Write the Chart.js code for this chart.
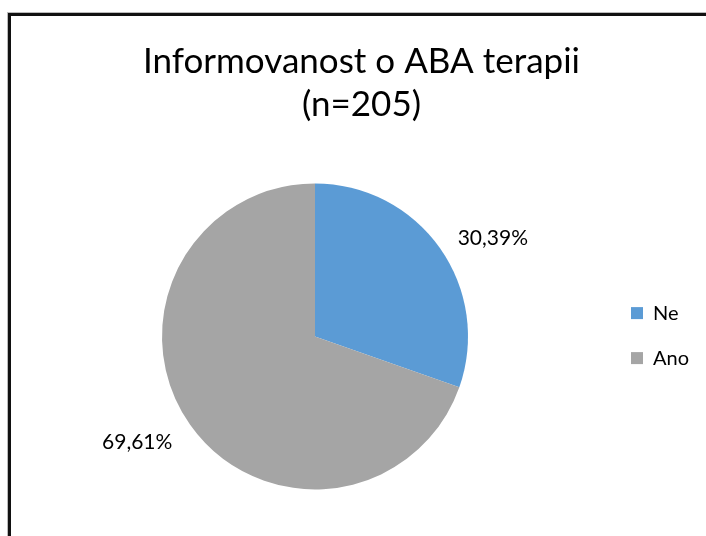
<!DOCTYPE html>
<html>
<head>
<meta charset="utf-8">
<script src="https://cdn.jsdelivr.net/npm/chart.js@4/dist/chart.umd.min.js"></script>
<style>
  body { margin: 0; background: #fff; width: 706px; height: 536px; overflow: hidden; position: relative; }
  #frame { position: absolute; left: 8px; top: 13px; width: 720px; height: 560px;
           border-left: 3px solid #111; border-top: 3px solid #111; box-shadow: -1px -1px 0 #bbb; }
  #wrap { position: absolute; left: 11px; top: 16px; width: 695px; height: 520px; }
</style>
</head>
<body>
<div id="frame"></div>
<div id="wrap"><canvas id="pieChart"></canvas></div>
<script>
// data
var categories = ['Ne', 'Ano'];
var values = [30.39, 69.61];
var colors = ['#5B9BD5', '#A5A5A5'];
var titleLines = ['Informovanost o ABA terapii', '(n=205)'];

var fontFamily = 'Lato, "Noto Sans", sans-serif';

// popisky hodnot mimo výseče
var valueLabels = {
  id: 'valueLabels',
  afterDatasetsDraw: function(chart) {
    var ctx = chart.ctx;
    var meta = chart.getDatasetMeta(0);
    ctx.save();
    ctx.font = '21px ' + fontFamily;
    ctx.fillStyle = '#000';
    ctx.textAlign = 'center';
    ctx.textBaseline = 'middle';
    meta.data.forEach(function(arc, i) {
      var p = arc.getProps(['x', 'y', 'startAngle', 'endAngle', 'outerRadius'], true);
      var mid = (p.startAngle + p.endAngle) / 2 + 0.095;
      var r = p.outerRadius * 1.34;
      var txt = values[i].toFixed(2).replace('.', ',') + '%';
      ctx.fillText(txt, p.x + Math.cos(mid) * r, p.y + Math.sin(mid) * r + 4);
    });
    ctx.restore();
  }
};

const pc = document.getElementById('pieChart');
var pieChart = new Chart(pc, {
  type: 'pie',
  data: {
    labels: categories,
    datasets: [{
      data: values,
      backgroundColor: colors,
      borderWidth: 0,
      radius: 153
    }]
  },
  options: {
    responsive: true,
    maintainAspectRatio: false,
    animation: false,
    layout: { padding: { left: 13, right: 7, top: 0, bottom: 30 } },
    plugins: {
      title: {
        display: true,
        text: titleLines,
        color: '#000',
        font: { family: fontFamily, size: 35, weight: 'normal', lineHeight: 1.24 },
        padding: { top: 24, bottom: 40 }
      },
      legend: {
        position: 'right',
        title: { display: true, text: ' ', font: { size: 1 }, padding: { top: 0, bottom: 148 } },
        labels: {
          color: '#000',
          boxWidth: 12,
          boxHeight: 12,
          padding: 25,
          font: { family: fontFamily, size: 20 }
        }
      },
      tooltip: { enabled: false }
    }
  },
  plugins: [valueLabels]
});
</script>
</body>
</html>
